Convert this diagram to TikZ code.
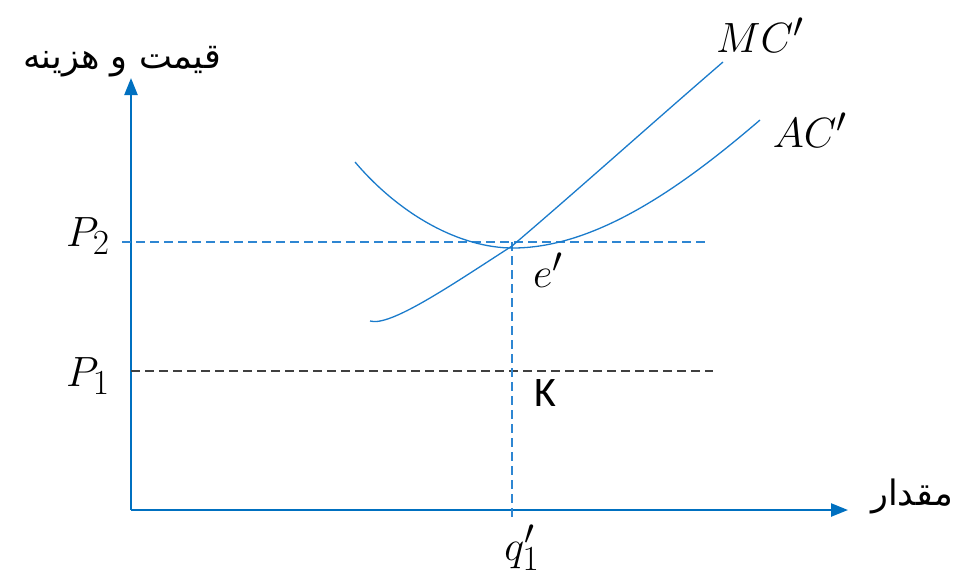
\documentclass[tikz,border=0pt]{standalone}
\usepackage{fontspec}
\usetikzlibrary{arrows.meta}
\newfontfamily\arabicfont[Script=Arabic]{DejaVu Sans}
\newfontfamily\calfont{Carlito}
\TeXXeTstate=1
\definecolor{axisblue}{HTML}{0070C0}
\definecolor{curveblue}{HTML}{1A7BCB}
\definecolor{dashblue}{HTML}{2E86D2}
\definecolor{dashgray}{HTML}{404040}
\tikzset{
  axisline/.style={axisblue, line width=2.4pt, -{Triangle[length=17pt,width=13pt]}},
  costcurve/.style={curveblue, line width=1.3pt},
  guideblue/.style={dashblue, line width=1.3pt, dash pattern=on 9pt off 5pt},
  guidegray/.style={dashgray, line width=1.2pt, dash pattern=on 9pt off 5pt},
  mathlabel/.style={inner sep=0pt, font=\Huge, scale=1.7},
  farsi/.style={inner sep=0pt, font=\fontsize{35}{40}\selectfont\arabicfont},
}
\begin{document}
\begin{tikzpicture}[x=1pt,y=-1pt]
\useasboundingbox (0,0) rectangle (973,582);
% axes
\coordinate (O) at (131,510);
\coordinate (Ytip) at (131,78);
\coordinate (Xtip) at (848,510);
\draw[axisline] (O) -- (Ytip);
\draw[axisline] (O) -- (Xtip);
% guide lines
\coordinate (P2a) at (122,242);
\coordinate (P2b) at (705,242);
\coordinate (P1a) at (131,371);
\coordinate (P1b) at (713,371);
\coordinate (Qtop) at (512,242);
\coordinate (Qbot) at (512,520);
\draw[guideblue] (P2a) -- (P2b);
\draw[guidegray] (P1a) -- (P1b);
\draw[guideblue] (Qtop) -- (Qbot);
% curves
\coordinate (MCs) at (370,321);
\coordinate (E) at (512,246);
\coordinate (MCe) at (723,62);
\draw[costcurve] (MCs) .. controls (390,327) and (450,286) .. (E)
  .. controls (580,188) and (650,125) .. (MCe);
\coordinate (ACs) at (355,162);
\coordinate (ACm) at (513,248);
\coordinate (ACe) at (760,120);
\draw[costcurve] (ACs) .. controls (400,215) and (460,248) .. (ACm)
  .. controls (600,248) and (690,180) .. (ACe);
% labels
\node[mathlabel] (mc) at (760,35) {$MC'$};
\node[mathlabel] (ac) at (810,130) {$AC'$};
\node[mathlabel] (e) at (548,270) {$e'$};
\node[mathlabel] (p2) at (88,236) {$P_2$};
\node[mathlabel] (p1) at (88,376) {$P_1$};
\node[mathlabel] (q) at (522,548) {$q'_1$};
\node[inner sep=0pt, font=\fontsize{42}{46}\selectfont\calfont] (k) at (545,393) {K};
\node[farsi] (ylab) at (122,62) {\beginR قیمت و هزینه\endR};
\node[farsi] (xlab) at (912,496) {\beginR مقدار\endR};
\end{tikzpicture}
\end{document}
